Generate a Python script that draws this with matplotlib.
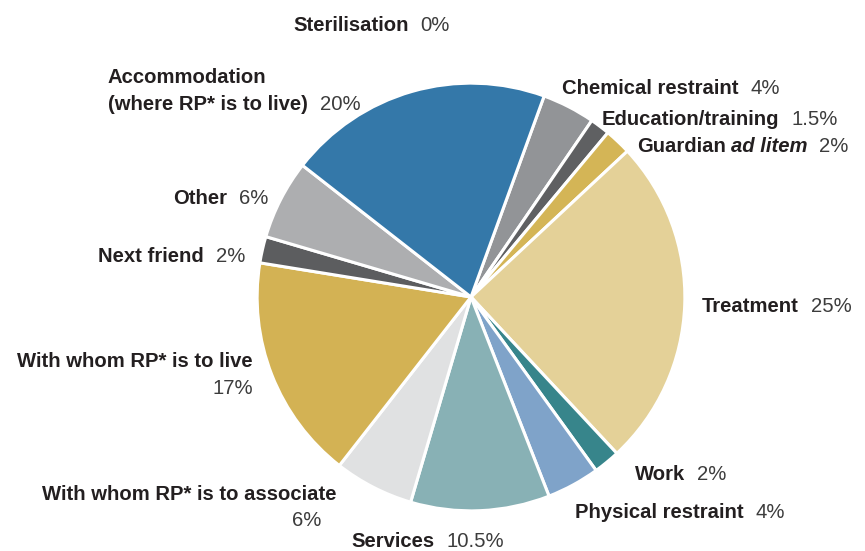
"""Pie chart of decision types (share of applications)."""
import matplotlib
matplotlib.use("Agg")
import matplotlib.pyplot as plt

# ── data (clockwise from the top) ────────────────────────────────────
categories = [
    "Sterilisation", "Chemical restraint", "Education/training",
    "Guardian ad litem", "Treatment", "Work", "Physical restraint",
    "Services", "With whom RP* is to associate", "With whom RP* is to live",
    "Next friend", "Other", "Accommodation (where RP* is to live)",
]
shares = [0, 4, 1.5, 2, 25, 2, 4, 10.5, 6, 17, 2, 6, 20]
pct_labels = ["0%", "4%", "1.5%", "2%", "25%", "2%", "4%",
              "10.5%", "6%", "17%", "2%", "6%", "20%"]
colors = ["#929497", "#929497", "#5f6062", "#d4b556", "#e4d198", "#37858b",
          "#7fa3c9", "#88b1b5", "#e0e1e2", "#d3b254", "#5c5d5f", "#adaeb0",
          "#3478a9"]

W, H = 865, 551
BOLD = dict(fontfamily="Liberation Sans", fontweight="bold", fontsize=14.6, color="#231f20")
BOLD_IT = dict(BOLD, fontstyle="italic")
REG = dict(fontfamily="Liberation Sans", fontweight="normal", fontsize=14.6, color="#3c3c3c")
GAP = 12

fig = plt.figure(figsize=(W / 100, H / 100), dpi=100)
renderer = fig.canvas.get_renderer()

# pie: centre (471, 297) px, radius ~214 px
cx, cy, r = 471, 297, 216
ax = fig.add_axes([(cx - r) / W, (H - cy - r) / H, 2 * r / W, 2 * r / H])
ax.pie(shares, colors=colors, startangle=70, counterclock=False,
       wedgeprops=dict(edgecolor="white", linewidth=2.2))
ax.set_xlim(-1.01, 1.01)
ax.set_ylim(-1.01, 1.01)
ax.set_aspect("equal")
ax.axis("off")


def _row(x, y, parts, ha="left"):
    """Draw text parts side by side; y is the visual centre in px from top."""
    texts = []
    for item in parts:
        if isinstance(item, (int, float)):
            texts.append(item)
            continue
        s, style = item
        t = fig.text(0, 0, s, va="baseline", ha="left", **style)
        texts.append(t)
    widths = [p if isinstance(p, (int, float)) else
              p.get_window_extent(renderer).width for p in texts]
    start = x if ha == "left" else x - sum(widths)
    pos = start
    for p, w in zip(texts, widths):
        if not isinstance(p, (int, float)):
            p.set_position((pos / W, 1 - (y + 6) / H))
        pos += w


# ── labels ───────────────────────────────────────────────────────────
_row(293, 25, [("Sterilisation", BOLD), GAP, (pct_labels[0], REG)])
_row(108, 77, [("Accommodation", BOLD)])
_row(108, 104, [("(where RP* is to live)", BOLD), GAP, (pct_labels[12], REG)])
_row(562, 88, [("Chemical restraint", BOLD), GAP, (pct_labels[1], REG)])
_row(602, 119, [("Education/training", BOLD), GAP, (pct_labels[2], REG)])
_row(637, 146, [("Guardian", BOLD), 5, ("ad litem", BOLD_IT), GAP, (pct_labels[3], REG)])
_row(702, 306, [("Treatment", BOLD), GAP, (pct_labels[4], REG)])
_row(635, 474, [("Work", BOLD), GAP, (pct_labels[5], REG)])
_row(575, 512, [("Physical restraint", BOLD), GAP, (pct_labels[6], REG)])
_row(351, 541, [("Services", BOLD), GAP, (pct_labels[7], REG)])
_row(337, 494, [("With whom RP* is to associate", BOLD)], ha="right")
_row(321, 520, [(pct_labels[8], REG)], ha="right")
_row(253, 361, [("With whom RP* is to live", BOLD)], ha="right")
_row(253, 388, [(pct_labels[9], REG)], ha="right")
_row(245, 256, [("Next friend", BOLD), GAP, (pct_labels[10], REG)], ha="right")
_row(268, 198, [("Other", BOLD), GAP, (pct_labels[11], REG)], ha="right")

fig.savefig("out.png", dpi=100)
